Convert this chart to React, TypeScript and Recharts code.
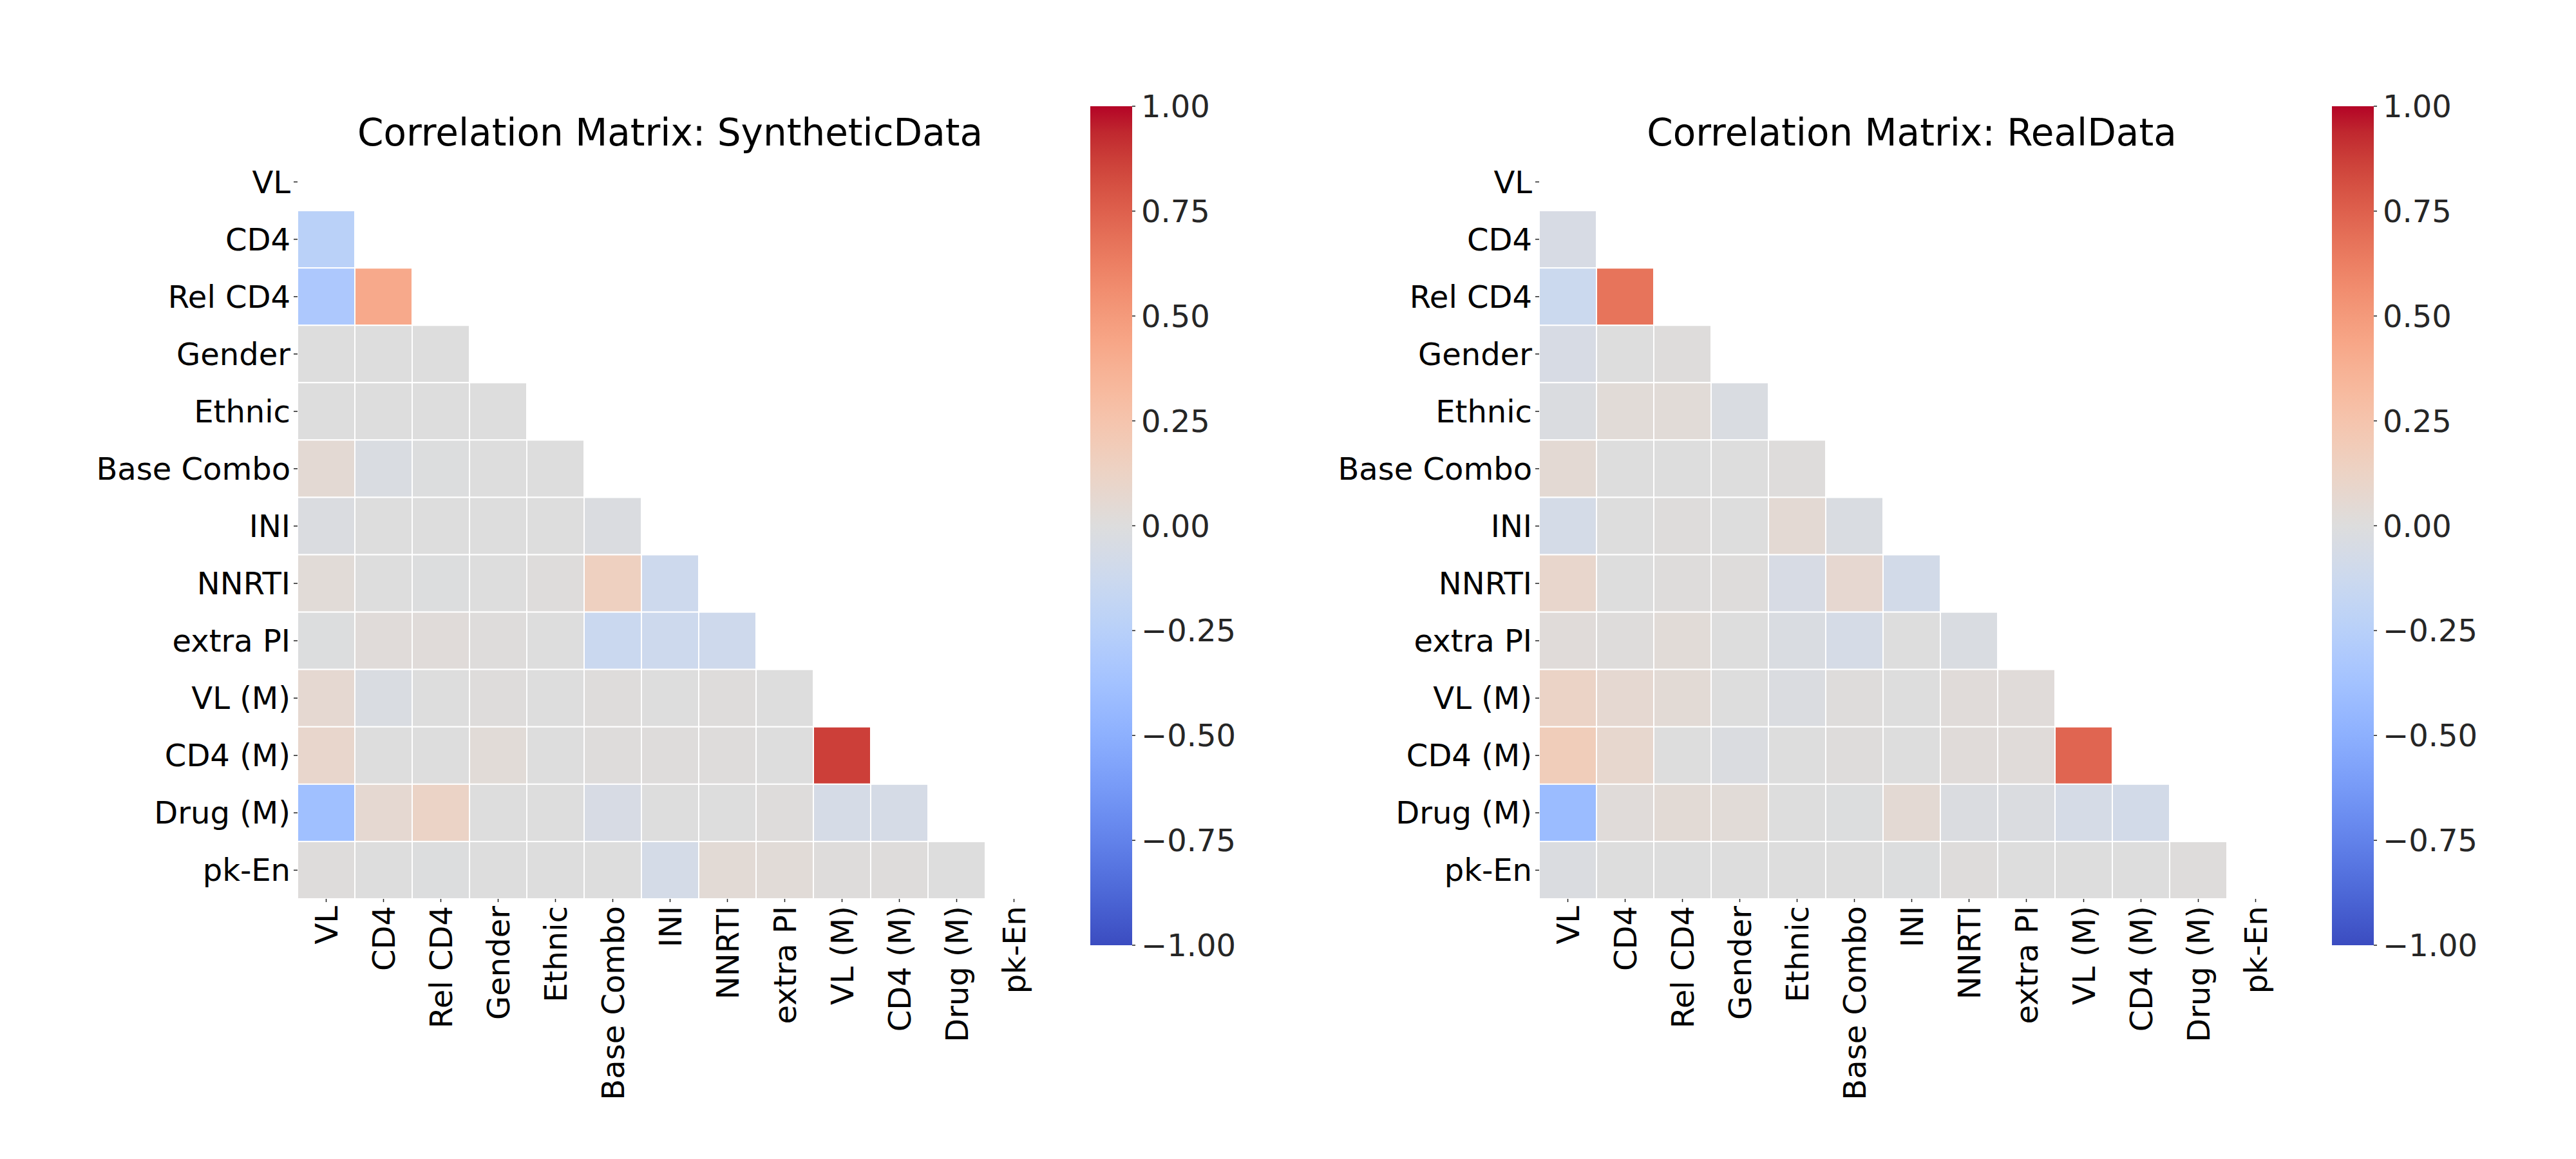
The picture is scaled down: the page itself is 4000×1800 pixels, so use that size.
import React from "react";
import { ScatterChart, Scatter, XAxis, YAxis, BarChart, Bar } from "recharts";

// ─── Data ────────────────────────────────────────────────────────────────────

const LABELS = [
  "VL",
  "CD4",
  "Rel CD4",
  "Gender",
  "Ethnic",
  "Base Combo",
  "INI",
  "NNRTI",
  "extra PI",
  "VL (M)",
  "CD4 (M)",
  "Drug (M)",
  "pk-En",
];

// lower triangle, row i holds correlations with columns 0..i-1
const SYNTHETIC_ROWS: number[][] = [
  [],
  [-0.24],
  [-0.32, 0.42],
  [0.0, 0.0, 0.0],
  [0.0, 0.0, 0.0, 0.0],
  [0.05, -0.03, -0.01, 0.0, 0.0],
  [-0.02, 0.0, 0.0, 0.0, 0.0, -0.02],
  [0.03, 0.0, -0.01, 0.0, 0.01, 0.15, -0.12],
  [-0.01, 0.02, 0.02, 0.01, 0.0, -0.14, -0.12, -0.11],
  [0.06, -0.03, 0.0, 0.01, 0.0, 0.01, 0.0, 0.01, 0.0],
  [0.09, 0.0, 0.0, 0.03, 0.0, 0.01, 0.01, 0.01, 0.0, 0.87],
  [-0.39, 0.06, 0.12, 0.0, 0.0, -0.05, 0.0, 0.0, 0.01, -0.06, -0.06],
  [0.01, 0.0, -0.01, 0.0, 0.0, 0.0, -0.07, 0.04, 0.03, 0.01, 0.01, 0.0],
];

const REAL_ROWS: number[][] = [
  [],
  [-0.05],
  [-0.13, 0.67],
  [-0.05, 0.0, 0.01],
  [-0.02, 0.03, 0.03, -0.03],
  [0.05, 0.0, 0.0, 0.0, 0.01],
  [-0.07, 0.0, 0.01, 0.0, 0.05, -0.03],
  [0.09, 0.0, 0.01, 0.01, -0.05, 0.07, -0.08],
  [0.02, 0.01, 0.03, 0.0, -0.03, -0.06, 0.0, -0.03],
  [0.12, 0.06, 0.04, 0.0, -0.02, 0.01, 0.0, 0.02, 0.02],
  [0.18, 0.08, 0.0, -0.02, 0.0, 0.01, 0.0, 0.02, 0.02, 0.73],
  [-0.42, 0.02, 0.04, 0.03, 0.0, -0.01, 0.05, -0.02, -0.02, -0.06, -0.08],
  [-0.02, 0.0, 0.0, 0.0, 0.0, 0.0, -0.01, 0.01, 0.0, 0.0, 0.0, 0.01],
];

const COLORBAR_TICKS = [-1, -0.75, -0.5, -0.25, 0, 0.25, 0.5, 0.75, 1];

// ─── coolwarm colormap ───────────────────────────────────────────────────────

const COOLWARM: number[][] = [
  [59, 76, 192], [68, 90, 204], [77, 104, 215], [87, 117, 225],
  [98, 130, 234], [108, 142, 241], [119, 154, 247], [130, 165, 251],
  [141, 176, 254], [152, 185, 255], [163, 194, 255], [174, 201, 253],
  [184, 208, 249], [194, 213, 244], [204, 217, 238], [213, 219, 230],
  [221, 221, 221], [229, 216, 209], [236, 211, 197], [241, 204, 185],
  [245, 196, 173], [247, 187, 160], [247, 177, 148], [247, 166, 135],
  [244, 154, 123], [241, 141, 111], [236, 127, 99], [229, 112, 88],
  [222, 96, 77], [213, 80, 66], [203, 62, 56], [192, 40, 47],
  [180, 4, 38],
];

function coolwarm(v: number): string {
  const t = Math.max(0, Math.min(1, (v + 1) / 2)) * (COOLWARM.length - 1);
  const i = Math.min(COOLWARM.length - 2, Math.floor(t));
  const f = t - i;
  const a = COOLWARM[i];
  const b = COOLWARM[i + 1];
  const c = a.map((ch, k) => Math.round(ch + (b[k] - ch) * f));
  return `rgb(${c[0]},${c[1]},${c[2]})`;
}

// ─── Layout ──────────────────────────────────────────────────────────────────

const FONT = "'DejaVu Sans', sans-serif";
const N = LABELS.length;
const CHART_W = 1700;
const CHART_H = 1800;
const PLOT_LEFT = 462;
const PLOT_TOP = 238;
const PLOT_W = 1157;
const PLOT_H = 1158;
const CELL_W = PLOT_W / N;
const CELL_H = PLOT_H / N;
const PANEL_OFFSET = 1928;
const CB_LEFT = 1693;
const CB_W = 65;
const CB_TOP = 165;
const CB_BOTTOM = 1468;
const TICKS = LABELS.map((_, i) => i + 0.5);

function toCells(rows: number[][]) {
  const out: { x: number; y: number; v: number }[] = [];
  rows.forEach((row, i) =>
    row.forEach((v, j) => out.push({ x: j + 0.5, y: i + 0.5, v })),
  );
  return out;
}

// ─── Pieces ──────────────────────────────────────────────────────────────────

function CellShape(props: any) {
  const { cx, cy, payload } = props;
  return (
    <rect
      x={cx - CELL_W / 2}
      y={cy - CELL_H / 2}
      width={CELL_W}
      height={CELL_H}
      fill={coolwarm(payload.v)}
      stroke="#ffffff"
      strokeWidth={2}
    />
  );
}

function XTick(props: any) {
  const { x, y, payload } = props;
  return (
    <text
      x={x}
      y={y}
      transform={`rotate(-90, ${x}, ${y})`}
      textAnchor="end"
      dominantBaseline="central"
      fontSize={48}
      fontFamily={FONT}
      fill="#000"
    >
      {LABELS[Math.floor(payload.value)]}
    </text>
  );
}

function YTick(props: any) {
  const { x, y, payload } = props;
  return (
    <text
      x={x}
      y={y}
      textAnchor="end"
      dominantBaseline="central"
      fontSize={48}
      fontFamily={FONT}
      fill="#000"
    >
      {LABELS[Math.floor(payload.value)]}
    </text>
  );
}

function Heatmap({ rows }: { rows: number[][] }) {
  return (
    <ScatterChart
      width={CHART_W}
      height={CHART_H}
      margin={{
        top: PLOT_TOP,
        right: CHART_W - PLOT_LEFT - PLOT_W,
        bottom: 0,
        left: 0,
      }}
    >
      <XAxis
        type="number"
        dataKey="x"
        domain={[0, N]}
        ticks={TICKS}
        interval={0}
        allowDataOverflow
        axisLine={false}
        tickSize={5}
        tickMargin={6}
        tickLine={{ stroke: "#222", strokeWidth: 1.5 }}
        tick={<XTick />}
        height={CHART_H - PLOT_TOP - PLOT_H}
      />
      <YAxis
        type="number"
        dataKey="y"
        domain={[0, N]}
        reversed
        ticks={TICKS}
        interval={0}
        allowDataOverflow
        axisLine={false}
        tickSize={6}
        tickMargin={5}
        tickLine={{ stroke: "#222", strokeWidth: 1.5 }}
        tick={<YTick />}
        width={PLOT_LEFT}
      />
      <Scatter
        data={toCells(rows)}
        shape={<CellShape />}
        isAnimationActive={false}
      />
    </ScatterChart>
  );
}

function Colorbar({ id }: { id: string }) {
  const stops = COOLWARM.map((c, i) => (
    <stop
      key={i}
      offset={`${(i / (COOLWARM.length - 1)) * 100}%`}
      stopColor={`rgb(${c[0]},${c[1]},${c[2]})`}
    />
  ));
  return (
    <BarChart
      width={CB_W + 200}
      height={CHART_H}
      data={[{ name: "cb", range: [-1, 1] }]}
      margin={{ top: CB_TOP, right: 0, bottom: CHART_H - CB_BOTTOM, left: 0 }}
      barCategoryGap={0}
    >
      <defs>
        {/* bottom (−1, blue) to top (+1, red) */}
        <linearGradient id={id} x1="0" y1="1" x2="0" y2="0">
          {stops}
        </linearGradient>
      </defs>
      <XAxis dataKey="name" hide />
      <YAxis
        orientation="right"
        domain={[-1, 1]}
        ticks={COLORBAR_TICKS}
        interval={0}
        allowDataOverflow
        axisLine={false}
        tickSize={5}
        tickMargin={9}
        tickLine={{ stroke: "#222", strokeWidth: 1.5 }}
        tick={{ fontSize: 48, fill: "#262626", fontFamily: FONT }}
        tickFormatter={(v: number) => v.toFixed(2).replace("-", "\u2212")}
        width={200}
      />
      <Bar dataKey="range" fill={`url(#${id})`} isAnimationActive={false} />
    </BarChart>
  );
}

// ─── App ─────────────────────────────────────────────────────────────────────

const TITLES = [
  "Correlation Matrix: SyntheticData",
  "Correlation Matrix: RealData",
];

export default function App() {
  const panels = [SYNTHETIC_ROWS, REAL_ROWS];
  return (
    <div
      style={{
        position: "fixed",
        left: 0,
        top: 0,
        width: 4000,
        height: 1800,
        background: "#fff",
        fontFamily: FONT,
      }}
    >
      {panels.map((rows, p) => (
        <React.Fragment key={p}>
          <div style={{ position: "absolute", left: p * PANEL_OFFSET, top: 0 }}>
            <Heatmap rows={rows} />
          </div>
          <div
            style={{
              position: "absolute",
              left: CB_LEFT + p * PANEL_OFFSET,
              top: 0,
            }}
          >
            <Colorbar id={`cbGrad${p}`} />
          </div>
        </React.Fragment>
      ))}
      <svg
        width={4000}
        height={1800}
        style={{ position: "absolute", left: 0, top: 0, pointerEvents: "none" }}
      >
        {TITLES.map((t, p) => (
          <text
            key={t}
            x={PLOT_LEFT + PLOT_W / 2 + p * PANEL_OFFSET}
            y={226}
            textAnchor="middle"
            fontSize={58}
            fontFamily={FONT}
            fill="#000"
          >
            {t}
          </text>
        ))}
      </svg>
    </div>
  );
}
